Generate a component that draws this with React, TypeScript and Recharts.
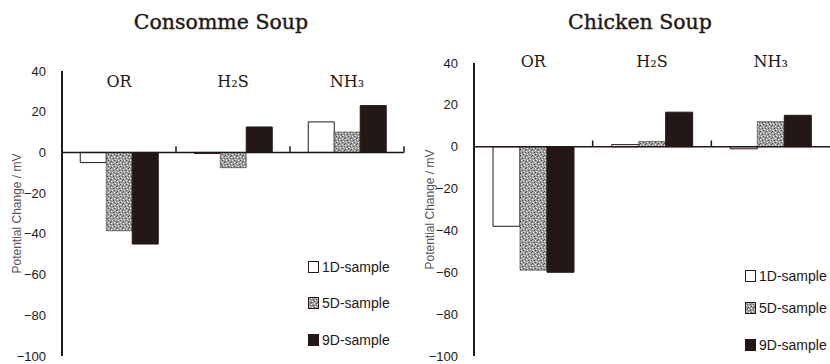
import { BarChart, Bar, XAxis, YAxis, ReferenceLine } from 'recharts';

const CATEGORIES = ['OR', 'H₂S', 'NH₃'];
const SERIES = ['1D-sample', '5D-sample', '9D-sample'];
const Y_TICKS = [40, 20, 0, -20, -40, -60, -80, -100];

// Consomme Soup, potential change (mV)
const consomme1D = [-5, -0.5, 15];
const consomme5D = [-38.5, -7.5, 10];
const consomme9D = [-45, 12.5, 23];

// Chicken Soup
const chicken1D = [-38, 1, -1];
const chicken5D = [-59, 2.5, 12];
const chicken9D = [-60, 16.5, 15];

const INK = '#231815';

const buildRows = (a: number[], b: number[], c: number[]) =>
  CATEGORIES.map((name, i) => ({ name, d1: a[i], d5: b[i], d9: c[i] }));

const fmt = (v: number) => String(v).replace('-', '−');

// small upward marks on the zero line at the category boundaries
const BOUNDARY_MARKS: { cat: string; pos: 'start' | 'end' }[] = [
  { cat: CATEGORIES[1], pos: 'start' },
  { cat: CATEGORIES[2], pos: 'start' },
  { cat: CATEGORIES[2], pos: 'end' },
];

// stipple texture for the 5D bars
function Hatch({ id }: { id: string }) {
  return (
    <defs>
      <pattern id={id} width="6" height="6" patternUnits="userSpaceOnUse">
        <rect width="6" height="6" fill="#a2a2a2" />
        <rect x="0" y="0" width="1" height="1" fill="#eeeeee" />
        <rect x="3" y="1" width="1" height="1" fill="#eeeeee" />
        <rect x="1" y="3" width="1" height="1" fill="#eeeeee" />
        <rect x="4" y="4" width="1" height="1" fill="#eeeeee" />
        <rect x="2" y="0" width="1" height="1" fill="#4a4a4a" />
        <rect x="5" y="2" width="1" height="1" fill="#4a4a4a" />
        <rect x="0" y="4" width="1" height="1" fill="#4a4a4a" />
        <rect x="3" y="5" width="1" height="1" fill="#4a4a4a" />
        <rect x="2" y="2" width="1" height="1" fill="#6a6a6a" />
      </pattern>
    </defs>
  );
}

interface PanelProps {
  title: string;
  rows: ReturnType<typeof buildRows>;
  hatchId: string;
  margin: { top: number; right: number; bottom: number; left: number };
  labelY: number;
  labelOffset: number;
  titleX: number;
  legendX: number;
  legendY: number[];
  left: number;
}

function Panel({ title, rows, hatchId, margin, labelY, labelOffset, titleX, legendX, legendY, left }: PanelProps) {
  const fills = ['#ffffff', `url(#${hatchId})`, INK];
  return (
    <div style={{ position: 'absolute', left, top: 0, width: 415, height: 364 }}>
      <div
        style={{
          position: 'absolute',
          left: titleX - 120,
          top: 10,
          width: 240,
          textAlign: 'center',
          fontFamily: '"DejaVu Serif", serif',
          fontSize: 20.5,
          color: INK,
          WebkitTextStroke: '0.4px #231815',
        }}
      >
        {title}
      </div>
      <BarChart
        width={415}
        height={364}
        data={rows}
        margin={margin}
        barCategoryGap="16%"
        barGap={0}
      >
        <Hatch id={hatchId} />
        <XAxis
          dataKey="name"
          orientation="top"
          height={1}
          interval={0}
          axisLine={false}
          tickLine={false}
          tick={(p: any) => (
            <text
              x={p.x}
              y={labelY}
              textAnchor="middle"
              fontFamily='"DejaVu Serif", serif'
              fontSize={16}
              fill={INK}
            >
              {p.payload.value}
            </text>
          )}
        />
        <YAxis
          domain={[-100, 40]}
          ticks={Y_TICKS}
          interval={0}
          width={40}
          tickFormatter={fmt}
          axisLine={{ stroke: INK, strokeWidth: 2 }}
          tickLine={false}
          tickMargin={10}
          tick={{ fill: INK, fontSize: 13, fontFamily: '"Liberation Sans", Arial, sans-serif' }}
          label={{
            value: 'Potential Change / mV',
            angle: -90,
            position: 'insideLeft',
            offset: labelOffset,
            style: { textAnchor: 'middle', fill: '#555', fontSize: 12, fontFamily: '"Liberation Sans", Arial, sans-serif' },
          }}
        />
        <ReferenceLine y={0} stroke={INK} strokeWidth={1.5} />
        {BOUNDARY_MARKS.map((m, i) => (
          <ReferenceLine
            key={i}
            position={m.pos}
            segment={[{ x: m.cat, y: 0 }, { x: m.cat, y: 3 }]}
            stroke={INK}
            strokeWidth={1.5}
          />
        ))}
        <Bar dataKey="d1" name={SERIES[0]} fill={fills[0]} stroke={INK} strokeWidth={1} isAnimationActive={false} />
        <Bar dataKey="d5" name={SERIES[1]} fill={fills[1]} stroke={INK} strokeWidth={0.5} isAnimationActive={false} />
        <Bar dataKey="d9" name={SERIES[2]} fill={fills[2]} stroke={INK} strokeWidth={1} isAnimationActive={false} />
      </BarChart>
      {SERIES.map((s, i) => (
        <div
          key={s}
          style={{
            position: 'absolute',
            left: legendX,
            top: legendY[i] - 9,
            display: 'flex',
            alignItems: 'center',
            fontFamily: '"Liberation Sans", Arial, sans-serif',
            fontSize: 14,
            color: INK,
          }}
        >
          <svg width={11} height={12} style={{ marginRight: 3 }}>
            <rect x={0.5} y={0.5} width={10} height={11} fill={fills[i]} stroke={INK} strokeWidth={1} />
          </svg>
          {s}
        </div>
      ))}
    </div>
  );
}

export default function App() {
  return (
    <div style={{ position: 'absolute', left: 0, top: 0, width: 830, height: 364, background: '#fff', overflow: 'hidden' }}>
      <Panel
        title="Consomme Soup"
        rows={buildRows(consomme1D, consomme5D, consomme9D)}
        hatchId="hatch-l"
        margin={{ top: 70, right: 11, bottom: 8, left: 22 }}
        labelY={87}
        labelOffset={-5}
        titleX={221}
        legendX={308}
        legendY={[268, 304, 341]}
        left={0}
      />
      <Panel
        title="Chicken Soup"
        rows={buildRows(chicken1D, chicken5D, chicken9D)}
        hatchId="hatch-r"
        margin={{ top: 62, right: 0, bottom: 8, left: 19 }}
        labelY={67}
        labelOffset={-4}
        titleX={225}
        legendX={330}
        legendY={[277, 309, 346]}
        left={415}
      />
    </div>
  );
}
